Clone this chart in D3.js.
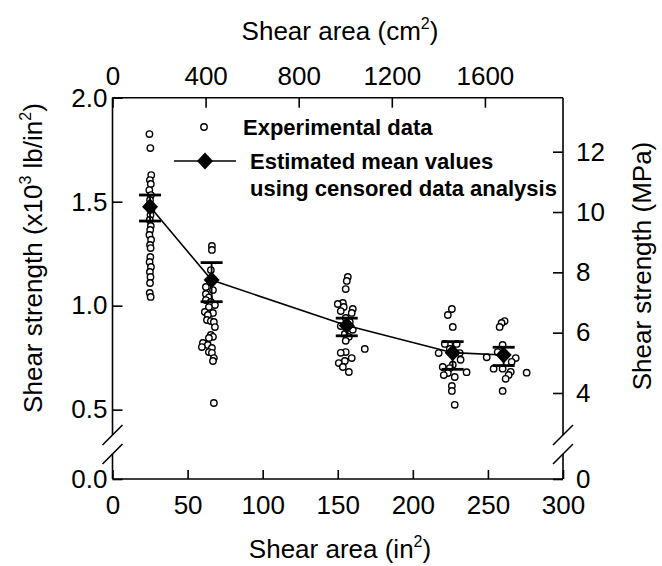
<!DOCTYPE html>
<html><head><meta charset="utf-8">
<script src="https://cdn.jsdelivr.net/npm/d3@7"></script>
<style>
html,body{margin:0;padding:0;background:#fff;}
svg{display:block;font-family:"Liberation Sans",Arial,sans-serif;}
</style></head>
<body><svg id="c" width="662" height="566"></svg>
<script>
// ---------- data ----------
const meanArea = [25, 66, 156, 226.5, 260.5];                 // in^2
const meanStrength = [1.476, 1.123, 0.905, 0.774, 0.763];     // x10^3 lb/in^2
const meanLower = [1.407, 1.019, 0.855, 0.694, 0.712];
const meanUpper = [1.532, 1.207, 0.940, 0.827, 0.800];

const obsArea = [
  // group 1
  24.6,25.2,25.8,24.9,25.5,24.5,25.6,25.0,24.7,25.9,25.3,24.8,25.5,25.1,24.6,25.7,25.0,25.4,25.2,24.7,25.6,24.9,25.3,25.0,24.8,25.4,
  // group 2
  66.2,66.2,65.5,64.9,62.2,66.9,62.2,64.2,62.2,65.5,68.2,64.2,61.5,66.9,63.5,62.9,65.5,67.5,68.2,65.5,66.9,64.2,60.2,63.5,59.5,66.2,64.2,66.2,67.5,66.9,67.5,
  // group 3
  156.7,156.0,155.3,153.4,150.0,154.0,160.0,152.0,159.3,155.3,158.0,152.0,160.0,154.7,157.4,155.3,168.0,155.3,152.0,159.3,154.7,150.7,153.4,157.4,
  // group 4
  226.0,223.3,226.6,221.3,229.2,224.6,217.2,231.2,231.8,226.6,219.9,224.6,223.3,220.6,227.9,235.8,226.0,226.0,227.9,
  // group 5
  261.1,259.1,257.8,259.8,256.5,249.2,268.5,265.8,253.8,259.8,265.2,275.8,263.8,261.8,259.8
];
const obsStrength = [
  1.825,1.758,1.628,1.604,1.585,1.556,1.532,1.508,1.484,1.460,1.436,1.412,1.383,1.364,1.340,1.317,1.292,1.277,1.234,1.210,1.186,1.162,1.138,1.109,1.061,1.042,
  1.287,1.268,1.171,1.114,1.090,1.075,1.056,1.040,1.027,1.018,1.003,0.993,0.970,0.965,0.955,0.931,0.926,0.922,0.897,0.859,0.850,0.845,0.821,0.811,0.801,0.797,0.777,0.773,0.748,0.734,0.532,
  1.138,1.119,1.080,1.013,1.008,0.994,0.984,0.974,0.965,0.941,0.922,0.902,0.884,0.864,0.850,0.831,0.792,0.777,0.773,0.748,0.734,0.724,0.705,0.681,
  0.984,0.955,0.898,0.816,0.816,0.792,0.772,0.772,0.740,0.716,0.705,0.700,0.676,0.666,0.657,0.680,0.614,0.590,0.523,
  0.926,0.917,0.898,0.811,0.777,0.752,0.748,0.730,0.697,0.697,0.682,0.678,0.667,0.648,0.590
];

const xTicksIn = [0, 50, 100, 150, 200, 250, 300];
const xTicksCm = [0, 400, 800, 1200, 1600];
const yTicksPsi = [0, 0.5, 1.0, 1.5, 2.0];
const yTicksMPa = [0, 4, 6, 8, 10, 12];

const IN2_TO_CM2 = 6.4516, KSI_TO_MPA = 6.895;

// ---------- layout ----------
const L = 112.5, R = 563, T = 97.7, B = 479;
const breakV = 0.33;
const yBreakPx = 445;
const svg = d3.select("#c");

const x = d3.scaleLinear().domain([0, 300]).range([L, R]);
const xCm = d3.scaleLinear().domain([0, 300 * IN2_TO_CM2]).range([L, R]);
const y = d3.scaleLinear().domain([0, breakV, 2]).range([B, yBreakPx, T]);
const yM = d3.scaleLinear().domain([0, breakV * KSI_TO_MPA, 2 * KSI_TO_MPA]).range([B, yBreakPx, T]);

const tickFont = 26;

function styleAxis(g) {
  g.select(".domain").remove();
  g.selectAll("line").attr("stroke", "#000").attr("stroke-width", 1.6);
  g.selectAll("text").attr("font-size", tickFont).attr("fill", "#000")
    .attr("font-family", "Liberation Sans, Arial, sans-serif");
}

svg.append("g").attr("transform", `translate(0,${B})`)
  .call(d3.axisBottom(x).tickValues(xTicksIn).tickFormat(d3.format("d")).tickSizeInner(-9).tickSizeOuter(0).tickPadding(17))
  .call(styleAxis);
svg.append("g").attr("transform", `translate(0,${T})`)
  .call(d3.axisTop(xCm).tickValues(xTicksCm).tickFormat(d3.format("d")).tickSizeInner(-10).tickSizeOuter(0).tickPadding(13))
  .call(styleAxis);
svg.append("g").attr("transform", `translate(${L},0)`)
  .call(d3.axisLeft(y).tickValues(yTicksPsi).tickFormat(d3.format(".1f")).tickSizeInner(-10).tickSizeOuter(0).tickPadding(5))
  .call(styleAxis);
svg.append("g").attr("transform", `translate(${R},0)`)
  .call(d3.axisRight(yM).tickValues(yTicksMPa).tickFormat(d3.format("d")).tickSizeInner(-10).tickSizeOuter(0).tickPadding(13))
  .call(styleAxis);

// frame with broken vertical axes
const gapTop = 0.378, gapBot = 0.243;
const frame = svg.append("g").attr("stroke", "#000").attr("stroke-width", 1.6).attr("fill", "none");
frame.append("line").attr("x1", L).attr("x2", R).attr("y1", T).attr("y2", T);
frame.append("line").attr("x1", L).attr("x2", R).attr("y1", B).attr("y2", B);
[L, R].forEach(xx => {
  frame.append("line").attr("x1", xx).attr("x2", xx).attr("y1", T).attr("y2", y(gapTop));
  frame.append("line").attr("x1", xx).attr("x2", xx).attr("y1", y(gapBot)).attr("y2", B);
  [gapTop, gapBot].forEach(v => {
    frame.append("line").attr("x1", xx - 10).attr("y1", y(v) + 10).attr("x2", xx + 10).attr("y2", y(v) - 10);
  });
});

// observations
svg.append("g").selectAll("circle").data(obsArea).join("circle")
  .attr("cx", d => x(d)).attr("cy", (d, i) => y(obsStrength[i])).attr("r", 3.2)
  .attr("fill", "#fff").attr("stroke", "#000").attr("stroke-width", 1.4);

// mean line
svg.append("path").datum(meanArea)
  .attr("d", d3.line().x(d => x(d)).y((d, i) => y(meanStrength[i])))
  .attr("fill", "none").attr("stroke", "#000").attr("stroke-width", 1.6);

// error bars
const eb = svg.append("g").attr("stroke", "#000");
meanArea.forEach((a, i) => {
  eb.append("line").attr("x1", x(a)).attr("x2", x(a)).attr("y1", y(meanLower[i])).attr("y2", y(meanUpper[i])).attr("stroke-width", 1.8);
  [meanLower[i], meanUpper[i]].forEach(v => {
    eb.append("line").attr("x1", x(a) - 11).attr("x2", x(a) + 11).attr("y1", y(v)).attr("y2", y(v)).attr("stroke-width", 2.8);
  });
});

const diamond = "M0,-8.5L8,0L0,8.5L-8,0Z";
svg.append("g").selectAll("path").data(meanArea).join("path")
  .attr("d", diamond).attr("transform", (d, i) => `translate(${x(d)},${y(meanStrength[i])})`)
  .attr("fill", "#000");

// legend
const lg = svg.append("g");
lg.append("circle").attr("cx", 204).attr("cy", 127).attr("r", 3.2).attr("fill", "#fff").attr("stroke", "#000").attr("stroke-width", 1.4);
lg.append("line").attr("x1", 174).attr("x2", 236).attr("y1", 161).attr("y2", 161).attr("stroke", "#000").attr("stroke-width", 1.6);
lg.append("path").attr("d", diamond).attr("transform", "translate(205,161)").attr("fill", "#000");
const lt = lg.append("g").attr("font-size", 22).attr("font-weight", "bold").attr("fill", "#000");
lt.append("text").attr("x", 243).attr("y", 135).text("Experimental data");
lt.append("text").attr("x", 250).attr("y", 169).text("Estimated mean values");
lt.append("text").attr("x", 250).attr("y", 196).text("using censored data analysis");

// axis titles
const titleFont = 26;
let t1 = svg.append("text").attr("x", 340).attr("y", 40).attr("font-size", titleFont).attr("text-anchor", "middle");
t1.append("tspan").text("Shear area (cm");
t1.append("tspan").attr("font-size", 16).attr("dy", -11).text("2");
t1.append("tspan").attr("dy", 11).text(")");
let t2 = svg.append("text").attr("x", 340).attr("y", 558).attr("font-size", titleFont).attr("text-anchor", "middle");
t2.append("tspan").text("Shear area (in");
t2.append("tspan").attr("font-size", 16).attr("dy", -11).text("2");
t2.append("tspan").attr("dy", 11).text(")");
let t3 = svg.append("text").attr("transform", "translate(42,258) rotate(-90)").attr("font-size", titleFont).attr("text-anchor", "middle");
t3.append("tspan").text("Shear strength (x10");
t3.append("tspan").attr("font-size", 16).attr("dy", -11).text("3");
t3.append("tspan").attr("dy", 11).text(" lb/in");
t3.append("tspan").attr("font-size", 16).attr("dy", -11).text("2");
t3.append("tspan").attr("dy", 11).text(")");
svg.append("text").attr("transform", "translate(651,266) rotate(-90)").attr("font-size", titleFont).attr("text-anchor", "middle")
  .text("Shear strength (MPa)");
</script></body></html>
